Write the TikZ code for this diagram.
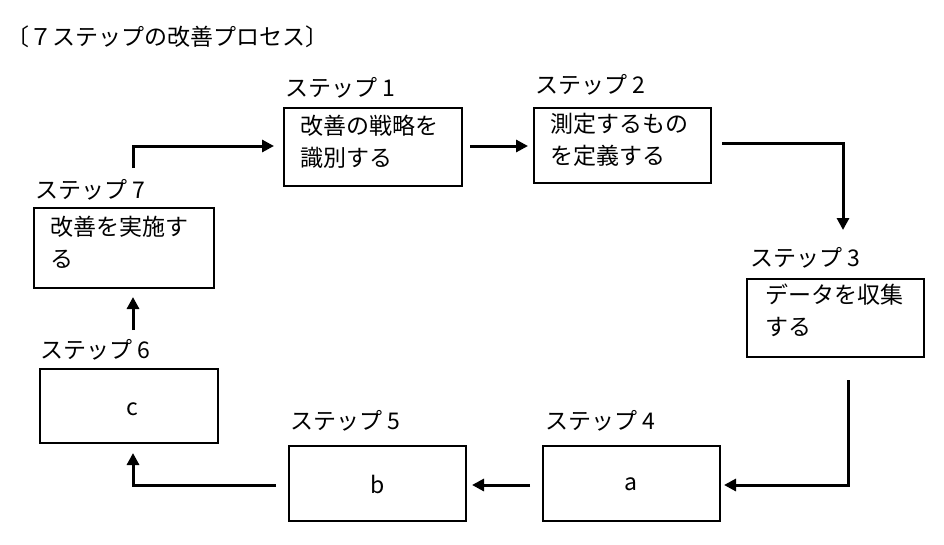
\documentclass[tikz,border=0pt]{standalone}
\usepackage{fontspec}
\setmainfont{Noto Sans CJK JP}
\usetikzlibrary{arrows.meta}
\begin{document}
\begin{tikzpicture}[x=1pt,y=-1pt,
  bw/.style={line width=1.6pt},
  lb/.style={anchor=west,font=\fontsize{23}{26}\selectfont,inner sep=0pt},
  tx/.style={anchor=north west,align=left,font=\fontsize{23}{32}\selectfont,inner sep=0pt},
  ar/.style={line width=3pt,-{Triangle[length=12pt,width=12pt]}}]
\useasboundingbox (0,0) rectangle (944,544);
\node[lb] (title) at (6,37) {〔７ステップの改善プロセス〕};
% boxes
\draw[bw] (284,108) rectangle (462,186);
\node[lb] (l1) at (285,88) {ステップ 1};
\node[tx] (t1) at (300,115) {改善の戦略を\\識別する};
\draw[bw] (534,108) rectangle (711,183);
\node[lb] (l2) at (535,85) {ステップ 2};
\node[tx] (t2) at (550,113) {測定するもの\\を定義する};
\draw[bw] (747,279) rectangle (924,357);
\node[lb] (l3) at (750,258) {ステップ 3};
\node[tx] (t3) at (765,284) {データを収集\\する};
\draw[bw] (543,446) rectangle (720,521);
\node[lb] (l4) at (545,421) {ステップ 4};
\node (t4) at (631,484) {\fontsize{23}{26}\selectfont a};
\draw[bw] (289,446) rectangle (466,521);
\node[lb] (l5) at (290,421) {ステップ 5};
\node (t5) at (378,484) {\fontsize{23}{26}\selectfont b};
\draw[bw] (40,369) rectangle (218,443);
\node[lb] (l6) at (40,350) {ステップ 6};
\node (t6) at (132,409) {\fontsize{23}{26}\selectfont c};
\draw[bw] (34,208) rectangle (214,288);
\node[lb] (l7) at (35,190) {ステップ 7};
\node[tx] (t7) at (50,216) {改善を実施す\\る};
% arrows
\draw[ar] (133,168) -- (133,146) -- (274,146);
\draw[ar] (470,146) -- (528,146);
\draw[ar] (722,143) -- (843,143) -- (843,230);
\draw[ar] (848,380) -- (848,485) -- (724,485);
\draw[ar] (530,485) -- (472,485);
\draw[ar] (276,485) -- (133,485) -- (133,453);
\draw[ar] (133,330) -- (133,297);
\end{tikzpicture}
\end{document}
